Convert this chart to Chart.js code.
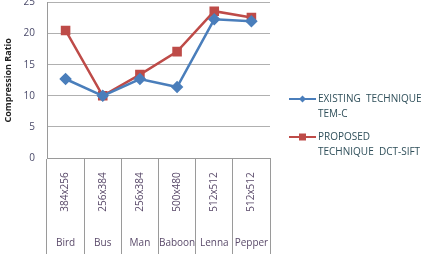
<!DOCTYPE html>
<html>
<head>
<meta charset="utf-8">
<script src="https://cdn.jsdelivr.net/npm/chart.js@4/dist/chart.umd.min.js"></script>
<style>
  html, body { margin: 0; padding: 0; background: #fff; overflow: hidden; }
  #frame { width: 428px; height: 254px; overflow: hidden; position: relative; }
  /* the source image is cropped at the top, so shift the chart up a little */
  #wrap { width: 428px; height: 259px; position: absolute; top: -5px; left: 0; }
</style>
</head>
<body>
<div id="frame"><div id="wrap"><canvas id="ratioChart"></canvas></div></div>
<script>
var images = ['Bird', 'Bus', 'Man', 'Baboon', 'Lenna', 'Pepper'];
var sizes = ['384x256', '256x384', '256x384', '500x480', '512x512', '512x512'];
var existing = [12.7, 10.0, 12.7, 11.4, 22.3, 22.0];
var proposed = [20.5, 10.0, 13.4, 17.1, 23.6, 22.6];
var legendLines = [['EXISTING  TECHNIQUE', 'TEM-C'], ['PROPOSED', 'TECHNIQUE  DCT-SIFT']];

var textFont = '"Open Sans", "DejaVu Sans", sans-serif';

// category labels: rotated size + image name underneath
var categoryLabels = {
    id: 'categoryLabels',
    afterDraw: function(chart) {
        var ctx = chart.ctx;
        var x = chart.scales.x;
        var base = chart.chartArea.bottom;
        ctx.save();
        ctx.fillStyle = '#5a4a6a';
        ctx.font = '10px ' + textFont;
        for (var i = 0; i < images.length; i++) {
            var px = x.getPixelForValue(i);
            ctx.save();
            ctx.translate(px, base + 34);
            ctx.rotate(-Math.PI / 2);
            ctx.textAlign = 'center';
            ctx.textBaseline = 'middle';
            ctx.fillText(sizes[i], 0, 0);
            ctx.restore();
            ctx.textAlign = 'center';
            ctx.textBaseline = 'middle';
            ctx.fillText(images[i], px, base + 85);
        }
        ctx.restore();
    }
};

// legend on the right, two lines of text each
var sideLegend = {
    id: 'sideLegend',
    afterDraw: function(chart) {
        var ctx = chart.ctx;
        var base = chart.chartArea.bottom;
        var rows = [base - 59, base - 21];
        ctx.save();
        chart.data.datasets.forEach(function(ds, i) {
            var y = rows[i];
            ctx.strokeStyle = ds.borderColor;
            ctx.lineWidth = 2;
            ctx.beginPath();
            ctx.moveTo(289, y);
            ctx.lineTo(316, y);
            ctx.stroke();
            ctx.fillStyle = ds.backgroundColor;
            ctx.beginPath();
            if (ds.pointStyle === 'rect') {
                ctx.rect(299, y - 3.5, 7, 7);
            } else {
                ctx.moveTo(302.5, y - 3.5);
                ctx.lineTo(306, y);
                ctx.lineTo(302.5, y + 3.5);
                ctx.lineTo(299, y);
                ctx.closePath();
            }
            ctx.fill();
            ctx.fillStyle = '#2f4f5a';
            ctx.font = '10px ' + textFont;
            ctx.textAlign = 'left';
            ctx.textBaseline = 'middle';
            legendLines[i].forEach(function(t, j) {
                ctx.fillText(t, 318, y + j * 15);
            });
        });
        ctx.restore();
    }
};

var ctx = document.getElementById('ratioChart').getContext('2d');
var ratioChart = new Chart(ctx, {
    type: 'line',
    data: {
        labels: images,
        datasets: [{
            label: 'EXISTING TECHNIQUE TEM-C',
            data: existing,
            borderColor: '#4a7ebb',
            backgroundColor: '#4a7ebb',
            borderWidth: 2.5,
            pointStyle: 'rectRot',
            pointRadius: 4.5,
            pointHoverRadius: 4.5,
            tension: 0
        }, {
            label: 'PROPOSED TECHNIQUE DCT-SIFT',
            data: proposed,
            borderColor: '#be4b48',
            backgroundColor: '#be4b48',
            borderWidth: 2.5,
            pointStyle: 'rect',
            pointRadius: 5,
            pointHoverRadius: 5,
            tension: 0
        }]
    },
    options: {
        responsive: true,
        maintainAspectRatio: false,
        animation: false,
        layout: { padding: { top: 2, right: 158, left: 0, bottom: 0 } },
        plugins: {
            legend: { display: false },
            tooltip: { enabled: false }
        },
        scales: {
            x: {
                type: 'category',
                offset: true,
                ticks: { display: false },
                grid: {
                    offset: true,
                    drawOnChartArea: false,
                    tickLength: 96,
                    color: '#9a9a9a',
                    lineWidth: 1
                },
                border: { color: '#9a9a9a' },
                afterFit: function(scale) { scale.height = 96; }
            },
            y: {
                min: 0,
                max: 25,
                ticks: {
                    stepSize: 5,
                    color: '#4a4a6a',
                    font: { size: 10, family: textFont },
                    padding: 12
                },
                grid: { color: '#b0b0b0', drawTicks: false },
                border: { color: '#9a9a9a' },
                title: {
                    display: true,
                    text: 'Compression Ratio',
                    color: '#222',
                    font: { size: 9, weight: 'bold', family: textFont },
                    padding: { top: 3, bottom: 0 }
                },
                afterFit: function(scale) {
                    scale.width = 47;
                    scale.paddingTop = 0;
                    scale.paddingBottom = 0;
                }
            }
        }
    },
    plugins: [categoryLabels, sideLegend]
});
</script>
</body>
</html>
